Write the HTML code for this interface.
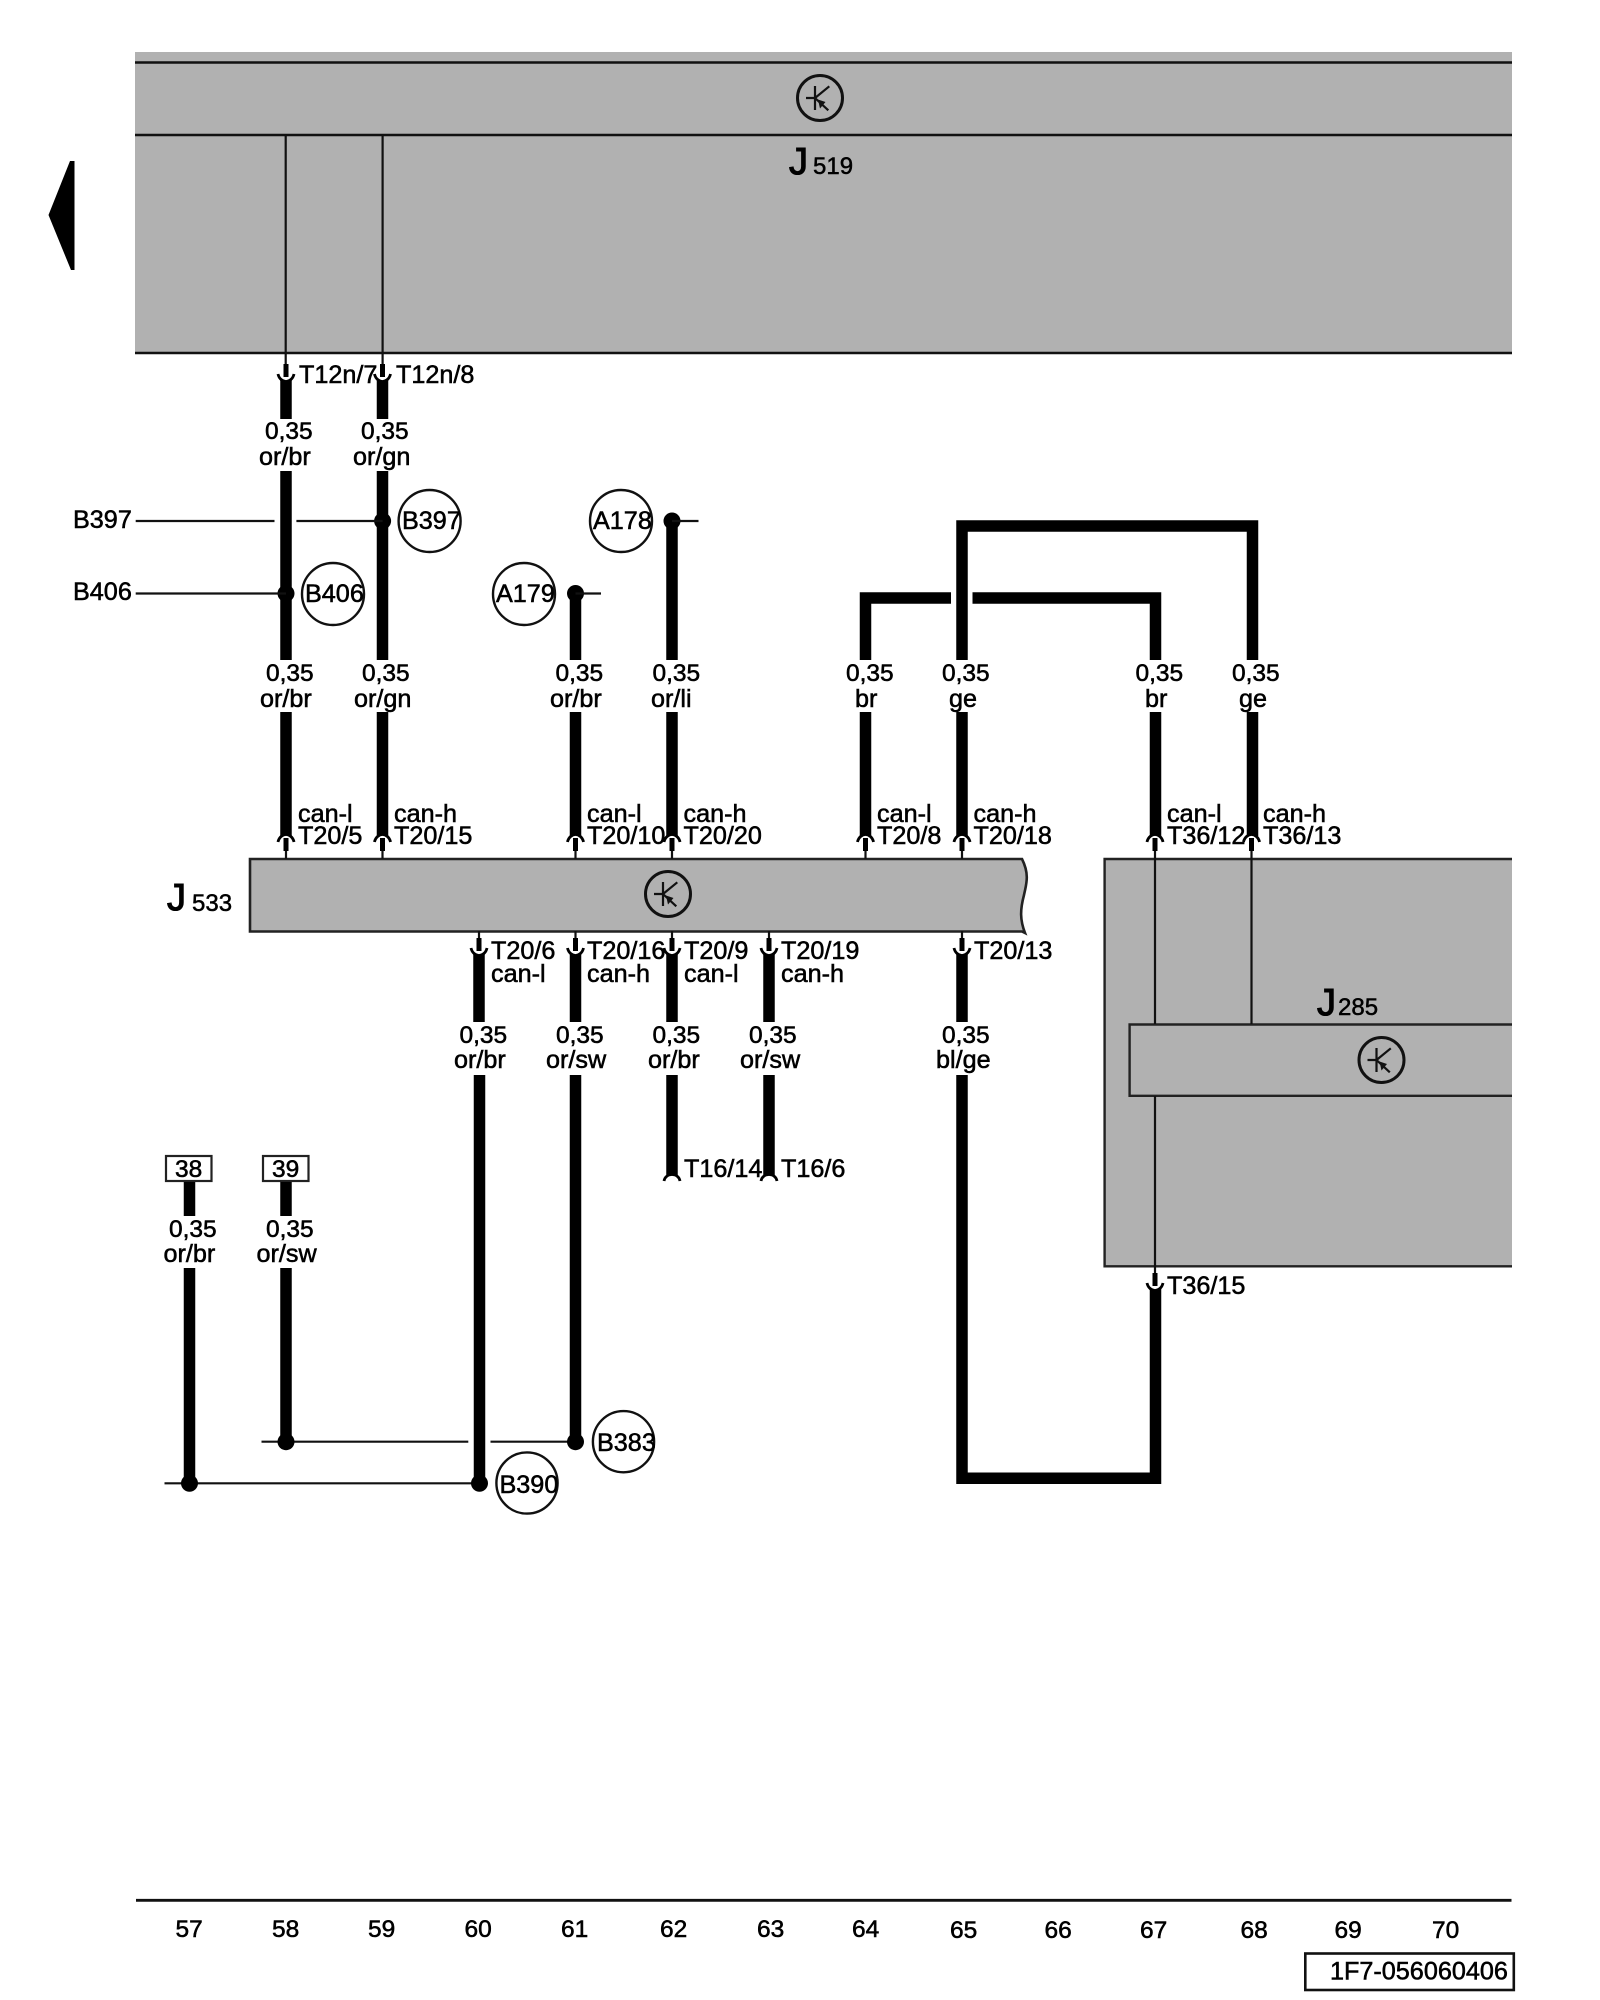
<!DOCTYPE html>
<html>
<head>
<meta charset="utf-8">
<style>
html,body{margin:0;padding:0;background:#fff}
svg{display:block}
text{font-family:"Liberation Sans",Arial,sans-serif;font-size:25.200px;fill:#000;stroke:#000;stroke-width:.55}
.n{font-size:24.500px}
.big{font-size:38px;stroke-width:1.100}
.sub{font-size:24px;stroke-width:.5}
.w{stroke:#000;stroke-width:11.500;fill:none;stroke-linejoin:miter}
.t{stroke:#111;stroke-width:2.200;fill:none}
.c{stroke:#111;stroke-width:2.400;fill:none}
</style>
</head>
<body>
<svg xmlns="http://www.w3.org/2000/svg" width="1600" height="2000" viewBox="0 0 1600 2000">
<defs>
<g id="down">
<path d="M-8 0C-7 5-3 7.500 0 7.500C3 7.500 7 5 8 0" fill="#fff" stroke="#000" stroke-width="2.800"/>
<rect x="-2.500" y="-10" width="5" height="13" fill="#000"/>
</g>
<g id="up">
<path d="M-8 0C-7-5-3-7.500 0-7.500C3-7.500 7-5 8 0" fill="#fff" stroke="#000" stroke-width="2.800"/>
<rect x="-2.500" y="-4" width="5" height="13" fill="#000"/>
</g>
<g id="end">
<path d="M-8 0C-7-5-3-6.500 0-6.500C3-6.500 7-5 8 0" fill="#fff" stroke="#000" stroke-width="2.800"/>
</g>
<g id="tr">
<circle cx="0" cy="0" r="22.500" fill="none" stroke="#111" stroke-width="3"/>
<path d="M-14 0H-5M-5-12V12M-5 0L9.300-11.700M-5 0L8.300 12.300" fill="none" stroke="#111" stroke-width="2.200"/>
<path d="M-2 1.500L5.500 4L0 10.500Z" fill="#111"/>
</g>
</defs>

<!-- back arrow -->
<polygon points="48.500,215 70,161 74.500,161 74.500,270 71,270" fill="#000"/>

<!-- J519 -->
<rect x="135" y="52" width="1377" height="301" fill="#b1b1b1"/>
<path d="M135 62.500H1512M135 135H1512M135 353H1512" stroke="#111" stroke-width="2.400" fill="none"/>
<path class="t" d="M285.700 135V365M382.600 135V365"/>
<use href="#tr" x="820" y="98"/>
<text class="big" x="789" y="174">J</text>
<text class="sub" x="813" y="174">519</text>

<!-- J533 box -->
<path d="M250 859H1022C1030 875 1026 885 1024 895C1020 910 1020 920 1025 933L1022 931.500H250Z" fill="#b1b1b1" stroke="#222" stroke-width="2.600"/>
<use href="#tr" x="668" y="894"/>
<text class="big" x="167" y="910">J</text>
<text class="sub" x="192" y="911">533</text>

<!-- J285 -->
<path d="M1512 859H1104.600V1266.300H1512V859Z" fill="#b1b1b1" stroke="none"/>
<path d="M1512 859H1104.600V1266.300H1512" fill="none" stroke="#222" stroke-width="2.400"/>
<path d="M1512 1024.500H1129.600V1095.800H1512" fill="none" stroke="#222" stroke-width="2.400"/>
<path class="t" d="M1155 848V1024M1251.500 848V1024M1155 1096V1275"/>
<use href="#tr" x="1381.500" y="1060"/>
<text class="big" x="1317" y="1015">J</text>
<text class="sub" x="1338" y="1015">285</text>

<!-- thick wires: top row -->
<path class="w" d="M286 378V419M382.500 378V419"/>
<path class="w" d="M286 471V660M382.500 471V660"/>
<path class="w" d="M575.500 593V660M672 521V660"/>
<path class="w" d="M865.500 660V598H951M972.500 598H1155.500V660"/>
<path class="w" d="M962 660V526H1252.500V660"/>
<path class="w" d="M286 712V836M382.500 712V836M575.500 712V836M672 712V836M865.500 712V836M962 712V836M1155.500 712V836M1252.500 712V836"/>

<!-- thin stubs above J533 -->
<path class="t" d="M286 846V859M382.500 846V859M575.500 846V859M672 846V859M865.500 846V859M962 846V859"/>

<!-- connectors up -->
<use href="#up" x="286" y="842"/><use href="#up" x="382.500" y="842"/><use href="#up" x="575.500" y="842"/><use href="#up" x="672" y="842"/><use href="#up" x="865.500" y="842"/><use href="#up" x="962" y="842"/><use href="#up" x="1155" y="842"/><use href="#up" x="1251.500" y="842"/>

<!-- connectors down top -->
<use href="#down" x="286" y="374"/><use href="#down" x="382.500" y="374"/>

<!-- below J533 -->
<path class="t" d="M479 931V940M575.500 931V940M672 931V940M769 931V940M962 931V940"/>
<path class="w" d="M479 952V1022M575.500 952V1022M672 952V1022M769 952V1022M962 952V1022"/>
<use href="#down" x="479" y="948"/><use href="#down" x="575.500" y="948"/><use href="#down" x="672" y="948"/><use href="#down" x="769" y="948"/><use href="#down" x="962" y="948"/>
<path class="w" d="M672 1075V1178M769 1075V1178"/>
<use href="#end" x="672" y="1181"/><use href="#end" x="769" y="1181"/>
<path class="w" d="M479.500 1075V1483M575.500 1075V1442"/>
<path class="w" d="M962 1075V1478.300H1155.500V1287"/>
<use href="#down" x="1155" y="1283"/>

<!-- 38 / 39 -->
<rect x="166" y="1156" width="45.500" height="25" fill="#fff" stroke="#222" stroke-width="2.200"/>
<rect x="263" y="1156" width="45.500" height="25" fill="#fff" stroke="#222" stroke-width="2.200"/>
<path class="w" d="M189.500 1182V1216M286 1182V1216M189.500 1268V1483M286 1268V1442"/>
<path class="t" d="M261.500 1441.700H468.300M490.500 1441.700H575.500M164.500 1483.300H479.500"/>
<g fill="#000">
<circle cx="286" cy="1441.700" r="8.500"/><circle cx="575.500" cy="1441.700" r="8.500"/><circle cx="189.500" cy="1483.300" r="8.500"/><circle cx="479.500" cy="1483.300" r="8.500"/>
<circle cx="382.600" cy="521" r="8.500"/><circle cx="286" cy="593.500" r="8.500"/><circle cx="672" cy="521" r="8.500"/><circle cx="575.500" cy="593.500" r="8.500"/>
</g>

<!-- thin B397/B406 -->
<path class="t" d="M135.700 521H274.500M296.400 521H382.600M135.700 593.500H286M672 521H698.500M575.500 593.500H601"/>

<!-- circles -->
<circle class="c" cx="429.600" cy="521" r="31"/>
<circle class="c" cx="333" cy="594" r="31"/>
<circle class="c" cx="621" cy="521" r="31"/>
<circle class="c" cx="524" cy="594" r="31"/>
<circle class="c" cx="623.500" cy="1441.700" r="30.600"/>
<circle class="c" cx="527" cy="1483" r="30.600"/>

<!-- labels -->
<text x="299" y="383">T12n/7</text>
<text x="396" y="383">T12n/8</text>
<text class="n" x="265" y="439">0,35</text>
<text class="n" x="361" y="439">0,35</text>
<text x="259" y="465">or/br</text>
<text x="353" y="465">or/gn</text>

<text x="73" y="528">B397</text>
<text x="73" y="600">B406</text>
<text x="402" y="529">B397</text>
<text x="305" y="602">B406</text>
<text x="593" y="529">A178</text>
<text x="496" y="602">A179</text>

<text class="n" x="266" y="681">0,35</text>
<text class="n" x="362" y="681">0,35</text>
<text class="n" x="555.500" y="681">0,35</text>
<text class="n" x="652.500" y="681">0,35</text>
<text class="n" x="846" y="681">0,35</text>
<text class="n" x="942" y="681">0,35</text>
<text class="n" x="1135.500" y="681">0,35</text>
<text class="n" x="1232" y="681">0,35</text>
<text x="260" y="707">or/br</text>
<text x="354" y="707">or/gn</text>
<text x="550" y="707">or/br</text>
<text x="651" y="707">or/li</text>
<text x="855" y="707">br</text>
<text x="949" y="707">ge</text>
<text x="1145" y="707">br</text>
<text x="1239" y="707">ge</text>

<text x="298" y="822">can-l</text><text x="298" y="844">T20/5</text>
<text x="394" y="822">can-h</text><text x="394" y="844">T20/15</text>
<text x="587" y="822">can-l</text><text x="587" y="844">T20/10</text>
<text x="683.500" y="822">can-h</text><text x="683.500" y="844">T20/20</text>
<text x="877" y="822">can-l</text><text x="877" y="844">T20/8</text>
<text x="973.500" y="822">can-h</text><text x="973.500" y="844">T20/18</text>
<text x="1167" y="822">can-l</text><text x="1167" y="844">T36/12</text>
<text x="1263" y="822">can-h</text><text x="1263" y="844">T36/13</text>

<text x="491" y="959">T20/6</text><text x="491" y="982">can-l</text>
<text x="587" y="959">T20/16</text><text x="587" y="982">can-h</text>
<text x="684" y="959">T20/9</text><text x="684" y="982">can-l</text>
<text x="781" y="959">T20/19</text><text x="781" y="982">can-h</text>
<text x="974" y="959">T20/13</text>

<text class="n" x="459.500" y="1043">0,35</text>
<text class="n" x="556" y="1043">0,35</text>
<text class="n" x="652.500" y="1043">0,35</text>
<text class="n" x="749" y="1043">0,35</text>
<text class="n" x="942" y="1043">0,35</text>
<text x="454" y="1068">or/br</text>
<text x="546" y="1068">or/sw</text>
<text x="648" y="1068">or/br</text>
<text x="740" y="1068">or/sw</text>
<text x="936" y="1068">bl/ge</text>

<text x="684" y="1177">T16/14</text>
<text x="781" y="1177">T16/6</text>
<text x="1167" y="1294">T36/15</text>

<text class="n" x="175" y="1177">38</text>
<text class="n" x="272" y="1177">39</text>
<text class="n" x="169" y="1237">0,35</text>
<text class="n" x="266" y="1237">0,35</text>
<text x="163.500" y="1262">or/br</text>
<text x="256.500" y="1262">or/sw</text>

<text x="597" y="1451">B383</text>
<text x="499.500" y="1493">B390</text>

<!-- footer -->
<path d="M136 1900.300H1511.500" stroke="#111" stroke-width="2.800"/>
<text class="n" x="175.500" y="1937">57</text>
<text class="n" x="272" y="1937">58</text>
<text class="n" x="368" y="1937">59</text>
<text class="n" x="464.500" y="1937">60</text>
<text class="n" x="561" y="1937">61</text>
<text class="n" x="660" y="1937">62</text>
<text class="n" x="757" y="1937">63</text>
<text class="n" x="852" y="1937">64</text>
<text class="n" x="950" y="1938">65</text>
<text class="n" x="1044.500" y="1938">66</text>
<text class="n" x="1140" y="1938">67</text>
<text class="n" x="1240.500" y="1938">68</text>
<text class="n" x="1334.500" y="1938">69</text>
<text class="n" x="1432" y="1938">70</text>
<rect x="1305.300" y="1953.500" width="208.500" height="36.500" fill="#fff" stroke="#111" stroke-width="2.600"/>
<text x="1330" y="1979.500">1F7-056060406</text>
</svg>
</body>
</html>
